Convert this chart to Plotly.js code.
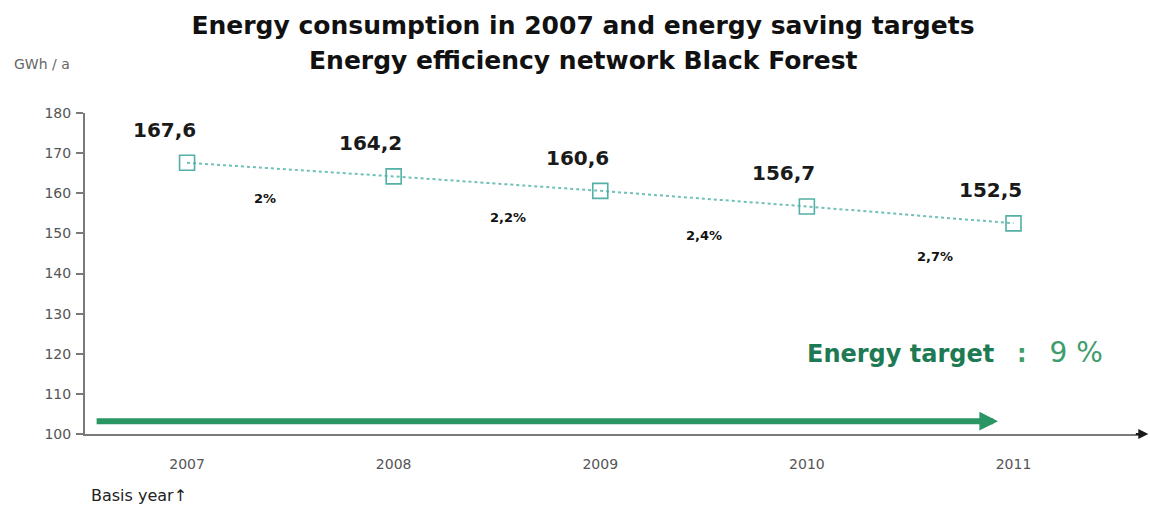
<!DOCTYPE html>
<html>
<head>
<meta charset="utf-8">
<script src="https://cdn.plot.ly/plotly-3.0.1.min.js"></script>
<style>
  html, body { margin: 0; padding: 0; background: #ffffff; }
  #chart { width: 1150px; height: 506px; }
</style>
</head>
<body>
<div id="chart"></div>
<script>
// Energy consumption of the network, GWh per year
const years = [2007, 2008, 2009, 2010, 2011];
const consumption = [167.6, 164.2, 160.6, 156.7, 152.5];
// Yearly saving between consecutive years, percent
const savingPct = [2, 2.2, 2.4, 2.7];
// Overall saving target, percent
const targetPct = 9;
const yTicks = [100, 110, 120, 130, 140, 150, 160, 170, 180];

const teal = '#52b0a6';
const tealLine = '#6fc0b6';
const darkGreen = '#1d7a52';
const midGreen = '#3f9d6d';
const arrowGreen = '#2a9663';

const fmt = v => String(v).replace('.', ',');

// plot box in pixels
const M = { l: 85, r: 8, t: 113, b: 72 };
const plotW = 1150 - M.l - M.r;
const plotH = 506 - M.t - M.b;

const trace = {
  type: 'scatter',
  mode: 'lines+markers',
  x: years,
  y: consumption,
  line: { color: tealLine, width: 2, dash: 'dot' },
  marker: { symbol: 'square-open', size: 15, color: teal, line: { width: 1.6, color: teal } },
  hoverinfo: 'x+y',
  showlegend: false
};

const annotations = [];

// value labels above each point
years.forEach((yr, i) => {
  annotations.push({
    x: yr, y: consumption[i], xref: 'x', yref: 'y',
    text: fmt(consumption[i].toFixed(1)),
    showarrow: false, xshift: -23, yshift: 33,
    font: { family: 'DejaVu Sans', size: 20, color: '#1a1a1a', weight: 'bold' }
  });
});

// saving labels below each segment
const pctShift = [[-25, -29], [11, -34], [0, -37], [25, -42]];
savingPct.forEach((p, i) => {
  annotations.push({
    x: (years[i] + years[i + 1]) / 2,
    y: (consumption[i] + consumption[i + 1]) / 2,
    xref: 'x', yref: 'y',
    text: fmt(p) + '%',
    showarrow: false, xshift: pctShift[i][0], yshift: pctShift[i][1],
    font: { family: 'DejaVu Sans', size: 13, color: '#111111', weight: 'bold' }
  });
});

// long green arrow along the period
annotations.push({
  x: years[years.length - 1] - 0.075, y: 103.2,
  ax: years[0] - 0.445, ay: 103.2,
  xref: 'x', yref: 'y', axref: 'x', ayref: 'y',
  text: '', showarrow: true,
  arrowhead: 2, arrowsize: 0.62, arrowwidth: 6, arrowcolor: arrowGreen, standoff: 0
});

// arrowhead at the end of the x axis
annotations.push({
  x: 1.006, y: 0, xref: 'paper', yref: 'paper',
  ax: -14, ay: 0, text: '', showarrow: true,
  arrowhead: 2, arrowsize: 1, arrowwidth: 2, arrowcolor: '#1a1a1a', standoff: 0
});

// second title line
annotations.push({
  x: (583 - M.l) / plotW, y: 1 + (M.t - 61) / plotH, xref: 'paper', yref: 'paper',
  text: 'Energy efficiency network Black Forest', showarrow: false,
  xanchor: 'center', yanchor: 'middle',
  font: { family: 'DejaVu Sans', size: 25, color: '#111111', weight: 'bold' }
});

// unit label
annotations.push({
  x: (12 - M.l) / plotW, y: 1 + (M.t - 64) / plotH, xref: 'paper', yref: 'paper',
  text: 'GWh / a', showarrow: false, xanchor: 'left', yanchor: 'middle',
  font: { family: 'DejaVu Sans', size: 14, color: '#666666' }
});

// base year note
annotations.push({
  x: 0.004, y: -0.193, xref: 'paper', yref: 'paper',
  text: 'Basis year\u2191', showarrow: false, xanchor: 'left', yanchor: 'middle',
  font: { family: 'DejaVu Sans', size: 16, color: '#222222' }
});

// overall target
annotations.push({
  x: (805 - M.l) / plotW, y: (434 - 352) / plotH, xref: 'paper', yref: 'paper',
  text: '<b>Energy target</b>&nbsp;&nbsp;&nbsp;<span style="color:' + midGreen + '"><b>:</b>&nbsp;&nbsp;&nbsp;<span style="font-size:28px">' + targetPct + ' %</span></span>',
  showarrow: false, xanchor: 'left', yanchor: 'middle',
  font: { family: 'DejaVu Sans', size: 24, color: darkGreen }
});

const layout = {
  width: 1150,
  height: 506,
  margin: M,
  paper_bgcolor: '#ffffff',
  plot_bgcolor: '#ffffff',
  title: {
    text: 'Energy consumption in 2007 and energy saving targets',
    x: 583 / 1150, xref: 'container', xanchor: 'center',
    y: 1 - 25.5 / 506, yref: 'container', yanchor: 'middle',
    font: { family: 'DejaVu Sans', size: 25, color: '#111111', weight: 'bold' }
  },
  xaxis: {
    range: [2006.506, 2011.622],
    tickvals: years,
    ticktext: years.map(String),
    ticks: '',
    showgrid: false,
    zeroline: false,
    showline: true,
    linecolor: '#7a7a7a',
    linewidth: 2,
    ticklabelstandoff: 16,
    tickfont: { family: 'DejaVu Sans', size: 14, color: '#555555' },
    fixedrange: true
  },
  yaxis: {
    range: [100, 180],
    tickvals: yTicks,
    ticks: 'outside',
    ticklen: 7,
    tickwidth: 1.5,
    tickcolor: '#7a7a7a',
    showgrid: false,
    zeroline: false,
    showline: true,
    linecolor: '#7a7a7a',
    linewidth: 2,
    ticklabelstandoff: 2,
    tickfont: { family: 'DejaVu Sans', size: 14, color: '#555555' },
    fixedrange: true
  },
  annotations: annotations
};

Plotly.newPlot('chart', [trace], layout, { displayModeBar: false, responsive: false });
</script>
</body>
</html>
